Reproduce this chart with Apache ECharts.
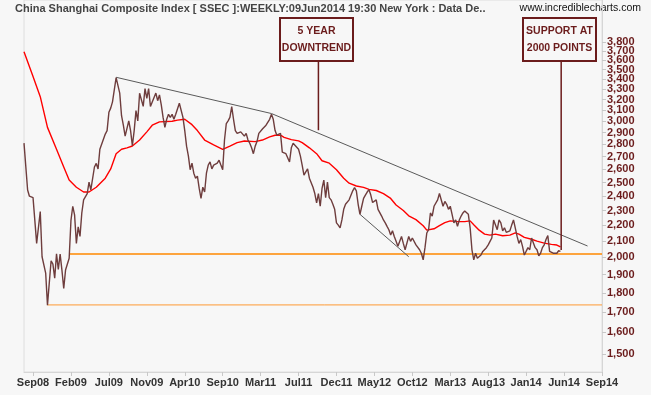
<!DOCTYPE html>
<html><head><meta charset="utf-8">
<script src="https://cdn.jsdelivr.net/npm/echarts@6/dist/echarts.min.js"></script>
<style>html,body{margin:0;padding:0;background:#f7f7f7}#c{width:651px;height:395px}</style>
</head><body><div id="c"></div>
<script>
// ---- data (x = trading-week index from start of chart, Aug 2008) ----
const tickWeeks = [5,26,47,68,89,110,131,152,173,194,215,236,257,278,299,320];
const tickLabels = ['Sep08','Feb09','Jul09','Nov09','Apr10','Sep10','Mar11','Jul11','Dec11','May12','Oct12','Mar13','Aug13','Jan14','Jun14','Sep14'];
const yTickValues = [1500,1600,1700,1800,1900,2000,2100,2200,2300,2400,2500,2600,2700,2800,2900,3000,3100,3200,3300,3400,3500,3600,3700,3800];

const priceWeeks = [0,2,3,5,7,9,10,12,13,15,16,17,18,19,20,21,22,23,25,26,27,28,29,30,31,32,33,35,36,37,39,40,41,42,43,45,46,47,48,49,51,52,53,54,55,56,57,58,59,60,61,62,63,64,66,67,68,69,70,71,73,74,75,76,77,78,79,80,81,82,83,84,85,86,87,88,89,90,91,92,93,94,95,96,97,98,99,100,101,102,103,104,105,106,107,108,109,110,111,112,113,114,115,116,117,118,119,120,121,122,123,124,125,126,127,128,129,130,131,132,133,134,135,136,137,138,139,140,141,142,143,145,146,147,148,149,150,152,153,154,155,156,157,158,159,160,161,162,163,164,165,166,167,168,169,170,171,172,173,174,175,176,177,178,180,181,182,183,184,185,186,187,188,189,190,191,192,193,194,195,196,197,198,199,200,201,202,203,204,205,206,207,208,209,210,211,212,213,214,215,216,217,218,219,220,221,222,223,224,225,226,227,228,229,230,231,232,233,234,235,236,237,238,239,240,241,242,243,244,245,246,247,248,249,250,251,252,253,254,255,256,257,258,259,260,261,262,263,264,265,266,267,268,269,270,271,272,273,274,275,276,277,278,279,280,281,282,283,284,285,286,287,288,289,290,291,292,293,294,295,296,297];
const priceCloses = [2811,2445,2400,2390,2085,2292,2004,1909,1735,1980,1960,1880,2021,1930,2020,1926,1823,1926,1995,2233,2329,2270,2085,2191,2129,2283,2374,2418,2503,2445,2618,2646,2603,2760,2760,2888,2918,3081,3120,3179,3417,3400,3262,3050,2965,2870,2870,3004,2918,2790,2918,3097,3004,3261,3136,3307,3212,3307,3136,3152,3263,3190,3245,3150,3035,2946,3018,3063,3035,3063,3018,3063,3081,3166,3152,3035,2918,2786,2706,2597,2648,2570,2532,2548,2456,2384,2465,2430,2570,2633,2658,2603,2633,2618,2648,2672,2633,2597,2837,2980,3004,3035,3133,3018,2918,2894,2878,2907,2894,2870,2894,2837,2810,2772,2724,2786,2824,2894,2878,2932,2918,2965,2980,3018,3063,3018,2918,2878,2870,2894,2737,2724,2724,2658,2772,2810,2824,2760,2706,2633,2556,2580,2603,2532,2518,2465,2419,2353,2419,2329,2456,2518,2390,2503,2390,2374,2343,2308,2217,2202,2184,2236,2308,2343,2374,2384,2439,2462,2439,2343,2274,2329,2384,2408,2430,2447,2408,2355,2343,2374,2308,2308,2262,2236,2217,2194,2172,2138,2165,2129,2098,2067,2076,2129,2085,2046,2036,2129,2098,2119,2129,2076,2085,2046,2025,1985,2059,2151,2172,2283,2262,2329,2318,2374,2419,2430,2329,2363,2343,2308,2329,2274,2217,2236,2194,2236,2262,2283,2297,2297,2274,2184,2046,1985,2025,1995,2004,2014,2036,2046,2059,2076,2098,2119,2236,2240,2172,2236,2217,2165,2184,2155,2165,2165,2202,2236,2240,2129,2085,2109,2067,2014,2025,2059,2046,2119,2109,2059,2046,2010,2025,2059,2076,2109,2135,2036,2046,2025,2014,2025,2040,2036];

const maWeeks = [0,5,9,13,18,22,25,29,33,36,40,45,48,51,54,57,60,64,68,71,75,82,85,89,93,96,100,105,110,114,118,122,128,132,136,139,142,144,148,152,154,158,162,165,169,173,177,180,184,188,191,195,199,203,206,210,213,217,221,223,227,230,233,236,240,244,247,249,252,255,258,261,265,269,272,274,277,281,284,288,292,295,297];
const maValues = [3691,3428,3228,2946,2760,2618,2518,2465,2430,2430,2465,2532,2603,2724,2760,2772,2787,2837,2907,2965,2995,3000,3010,3018,2970,2918,2837,2797,2760,2786,2815,2829,2824,2837,2864,2878,2878,2860,2840,2830,2815,2772,2724,2667,2648,2597,2532,2495,2474,2464,2449,2441,2419,2384,2338,2300,2264,2238,2198,2169,2178,2198,2218,2230,2225,2225,2230,2205,2169,2144,2137,2144,2133,2137,2152,2144,2123,2111,2099,2087,2079,2075,2063];

const downtrendWeeks = [51,137,312];
const downtrendValues = [3420,3070,2069];
const channelWeeks = [186,213];
const channelValues = [2274,2004];
const supportWeeks = [25,320];
const supportValues = [2020,2020];
const lowWeeks = [13,320];
const lowValues = [1736,1736];
const pointer1Weeks = [163,163];
const pointer1Values = [2922,3590];
const pointer2Weeks = [297.4,297.4];
const pointer2Values = [2045,3590];

const titleText = 'China Shanghai Composite Index [ SSEC ]:WEEKLY:09Jun2014 19:30 New York : Data De..';
const siteText = 'www.incrediblecharts.com';
const note1 = '5 YEAR\nDOWNTREND';
const note2 = 'SUPPORT AT\n2000 POINTS';

// ---- chart ----
const L = v => Math.log10(v);
const pairs = (xs, ys) => xs.map((x, i) => [x, L(ys[i])]);
const fmt = n => String(n).replace(/\B(?=(\d{3})+(?!\d))/g, ',');
const FONT = 'Liberation Sans, Arial, sans-serif';
const MAROON = '#6b1c1c';
const Y_MIN = 3.15278, Y_MAX = 3.63402;

// split the dense log ticks over two overlapping right-hand axes so none get hidden
const yTicksA = yTickValues.filter((v, i) => i % 2 === 0).map(L);
const yTicksB = yTickValues.filter((v, i) => i % 2 === 1).map(L);

function yAxisDef(ticks, showLine) {
  return {
    type: 'value', position: 'right', offset: 0, min: Y_MIN, max: Y_MAX,
    axisLine: {show: showLine, onZero: false, lineStyle: {color: '#d6d6d6'}},
    axisTick: {show: true, length: 4, customValues: ticks, lineStyle: {color: '#c8c8c8'}},
    axisLabel: {customValues: ticks, formatter: v => fmt(Math.round(Math.pow(10, v))),
      color: MAROON, fontWeight: 'bold', fontSize: 11, fontFamily: FONT, margin: 5,
      hideOverlap: false, showMinLabel: true, showMaxLabel: true},
    splitLine: {show: false}
  };
}

const chart = echarts.init(document.getElementById('c'), null, {renderer: 'canvas'});
function lineSeries(name, data, color, width, z) {
  return {name, type: 'line', data, showSymbol: false, symbol: 'none', smooth: false,
    lineStyle: {color, width}, itemStyle: {color}, z: z || 2, silent: true,
    emphasis: {disabled: true}, animation: false, yAxisIndex: 0};
}
chart.setOption({
  backgroundColor: '#f7f7f7',
  animation: false,
  grid: {left: 24, right: 49, top: 0, bottom: 23, show: true, borderColor: '#dedede', borderWidth: 1,
    containLabel: false, outerBoundsMode: 'none'},
  xAxis: {
    type: 'value', min: 0, max: 320,
    axisLine: {show: true, onZero: false, lineStyle: {color: '#d6d6d6'}},
    axisTick: {show: true, length: 4, customValues: tickWeeks, lineStyle: {color: '#c8c8c8'}},
    axisLabel: {customValues: tickWeeks, formatter: v => tickLabels[tickWeeks.indexOf(v)],
      color: '#333', fontWeight: 'bold', fontSize: 11, fontFamily: FONT, margin: 5,
      showMinLabel: true, showMaxLabel: true},
    splitLine: {show: false}
  },
  yAxis: [yAxisDef(yTicksA, true), yAxisDef(yTicksB, false)],
  series: [
    lineSeries('Support 2000', pairs(supportWeeks, supportValues), '#ff8800', 1.5, 1),
    lineSeries('Low', pairs(lowWeeks, lowValues), '#ff9a33', 1, 1),
    lineSeries('Downtrend', pairs(downtrendWeeks, downtrendValues), '#5a5a5a', 1, 1),
    lineSeries('Channel', pairs(channelWeeks, channelValues), '#5a5a5a', 1, 1),
    lineSeries('MA', pairs(maWeeks, maValues), '#ff0000', 1.4, 2),
    lineSeries('SSEC', pairs(priceWeeks, priceCloses), '#6e3d3d', 1.4, 3),
    lineSeries('Pointer1', pairs(pointer1Weeks, pointer1Values), MAROON, 1.5, 4),
    lineSeries('Pointer2', pairs(pointer2Weeks, pointer2Values), MAROON, 1.5, 4)
  ],
  graphic: [
    {type: 'text', left: 15, top: 3, style: {text: titleText, fill: '#444', font: 'bold 11px ' + FONT}},
    {type: 'text', right: 10, top: 3, style: {text: siteText, fill: '#111', font: '10.5px ' + FONT}},
    {type: 'rect', shape: {x: 280, y: 18, width: 73, height: 43}, style: {fill: '#f7f7f7', stroke: MAROON, lineWidth: 2}, z: 10},
    {type: 'text', x: 316.5, y: 39.5, style: {text: note1, fill: MAROON, font: 'bold 10.5px ' + FONT, align: 'center', verticalAlign: 'middle', lineHeight: 17}, z: 11},
    {type: 'rect', shape: {x: 523, y: 18, width: 73, height: 43}, style: {fill: '#f7f7f7', stroke: MAROON, lineWidth: 2}, z: 10},
    {type: 'text', x: 559.5, y: 39.5, style: {text: note2, fill: MAROON, font: 'bold 10.5px ' + FONT, align: 'center', verticalAlign: 'middle', lineHeight: 17}, z: 11}
  ]
});
</script></body></html>
